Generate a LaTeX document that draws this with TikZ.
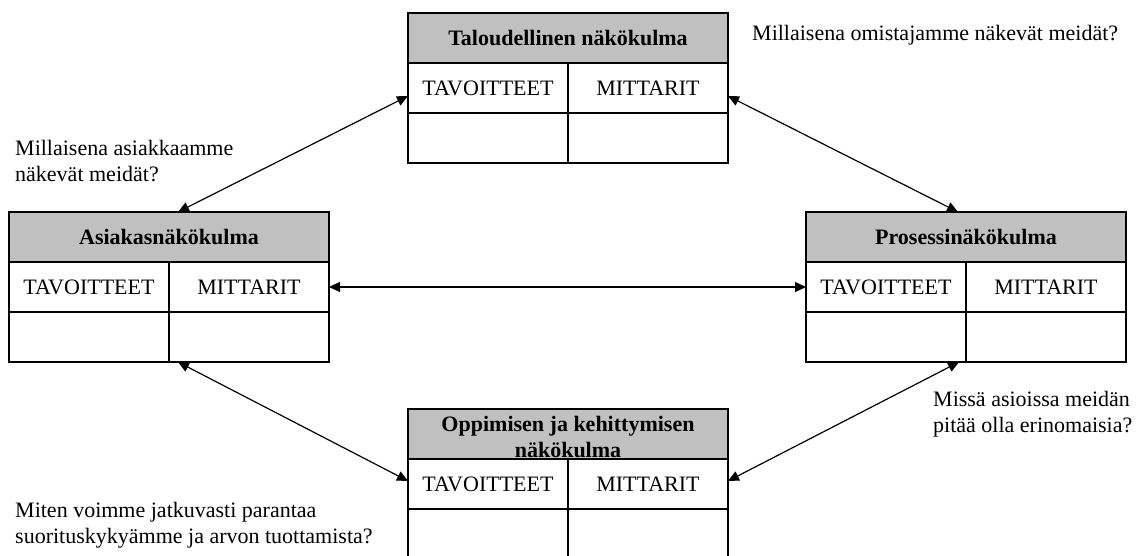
\documentclass[tikz,border=0pt]{standalone}
\usepackage{fontspec}
\setmainfont{Liberation Serif}
\usetikzlibrary{arrows.meta,calc}
\definecolor{headgray}{RGB}{192,192,192}

% One perspective: a grey title row over a 2x2 grid of cells
\newcommand\bscbox[4]{%
  \node[head] (#1-h) at (#2,#3) {#4};
  \node[cell] (#1-t) at (#2,{#3+50}) {TAVOITTEET};
  \node[cell] (#1-m) at ({#2+160},{#3+50}) {MITTARIT};
  \node[cell] (#1-a) at (#2,{#3+100}) {};
  \node[cell] (#1-b) at ({#2+160},{#3+100}) {};
}

\begin{document}
\begin{tikzpicture}[x=1pt,y=-1pt,
  txt/.style={font=\fontsize{22}{25.5}\selectfont},
  bold/.style={font=\fontsize{22}{26.5}\selectfont\bfseries},
  cell/.style={txt, draw, line width=2.3pt, minimum width=160pt, minimum height=50pt,
    inner sep=0pt, outer sep=0pt, anchor=north west, text height=15pt, text depth=0pt},
  head/.style={cell, fill=headgray, minimum width=320pt, align=center, bold},
  title/.style={bold, align=center, inner sep=0pt},
  tip/.tip={Triangle[length=11pt,width=10pt]},
  link/.style={line width=1.2pt, tip-tip},
  note/.style={txt, anchor=west, align=left, inner sep=0pt}]
\useasboundingbox (0,0) rectangle (1136,556);
\clip (0,0) rectangle (1136,556);

\bscbox{T}{408}{13}{Taloudellinen näkökulma}
\bscbox{L}{9}{212}{Asiakasnäkökulma}
\bscbox{R}{806}{212}{Prosessinäkökulma}
\bscbox{B}{408}{409}{}
\node[title] (B-title) at ($(B-h.center)+(0,3)$) {Oppimisen ja kehittymisen\\näkökulma};

\node[note] (qT) at (752,35) {Millaisena omistajamme näkevät meidät?};
\node[note] (qL) at (15,161) {Millaisena asiakkaamme\\näkevät meidät?};
\node[note] (qR) at (933,414) {Missä asioissa meidän\\pitää olla erinomaisia?};
\node[note] (qB) at (15,525) {Miten voimme jatkuvasti parantaa\\suorituskykyämme ja arvon tuottamista?};

\draw[link] ($(T-t.west)+(0,8)$) -- ($(L-h.north west)+(169,0)$);
\draw[link] ($(T-m.east)+(0,8)$) -- ($(R-h.north west)+(152,0)$);
\draw[link] (L-m.east) -- (R-t.west);
\draw[link] ($(L-a.south east)+(9,0)$) -- ($(B-t.west)+(0,-3)$);
\draw[link] ($(R-b.south west)+(-7,0)$) -- ($(B-m.east)+(0,-3)$);
\end{tikzpicture}
\end{document}
